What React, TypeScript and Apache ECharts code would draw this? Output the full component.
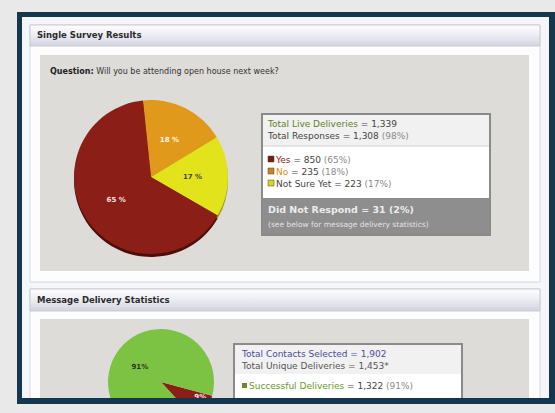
import React, { useEffect, useRef } from "react";
import * as echarts from "echarts";

const surveyCategories = ["No", "Not Sure Yet", "Yes"];
const surveyValues = [235, 223, 850];
const surveyPercents = [18, 17, 65];
const deliveryCategories = ["Failed Deliveries", "Successful Deliveries"];
const deliveryValues = [131, 1322];
const deliveryPercents = [9, 91];

const FONT = "DejaVu Sans";

export default function App() {
  const ref = useRef<HTMLDivElement>(null);
  useEffect(() => {
    if (!ref.current) return;
    const chart = echarts.init(ref.current, undefined, { renderer: "svg" });
    const hdrGrad = new echarts.graphic.LinearGradient(0, 0, 0, 1, [
      { offset: 0, color: "#fdfdff" },
      { offset: 0.5, color: "#ececf3" },
      { offset: 1, color: "#d3d3e0" },
    ]);
    const text = (x: number, y: number, t: string, extra: any = {}, z = 5) => ({
      type: "text",
      x,
      y,
      z,
      silent: true,
      style: {
        text: t,
        fontFamily: FONT,
        fontSize: 8,
        fill: "#333",
        verticalAlign: "middle",
        ...extra,
      },
    });
    const option: any = {
      animation: false,
      backgroundColor: "#e9e9e9",
      graphic: [
        { type: "rect", z: 0, silent: true, shape: { x: 17, y: 12, width: 540, height: 392 }, style: { fill: "#f5f6f9" } },
        { type: "rect", z: 0, silent: true, shape: { x: 30, y: 25, width: 510, height: 257 }, style: { fill: "#fdfdfe", stroke: "#d6d6de", lineWidth: 1 } },
        { type: "rect", z: 1, silent: true, shape: { x: 30, y: 25, width: 510, height: 21 }, style: { fill: hdrGrad, stroke: "#c9c9d6", lineWidth: 1 } },
        text(37, 35, "Single Survey Results", { fontWeight: "bold", fontSize: 8.5, fill: "#2a2a2a" }),
        { type: "rect", z: 1, silent: true, shape: { x: 40, y: 55, width: 489, height: 216 }, style: { fill: "#dddcd8" } },
        text(50, 71, "{b|Question:} Will you be attending open house next week?", {
          fill: "#333",
          rich: { b: { fontWeight: "bold", fontFamily: FONT, fontSize: 8, fill: "#222" } },
        }),
        { type: "rect", z: 3, silent: true, shape: { x: 262, y: 114, width: 228, height: 121 }, style: { fill: "#ffffff", stroke: "#8a8a8a", lineWidth: 2 } },
        { type: "rect", z: 3, silent: true, shape: { x: 263, y: 115, width: 226, height: 31 }, style: { fill: "#f1f1f1" } },
        { type: "line", z: 3, silent: true, shape: { x1: 263, y1: 146, x2: 489, y2: 146 }, style: { stroke: "#cfcfcf", lineWidth: 1 } },
        { type: "rect", z: 3, silent: true, shape: { x: 263, y: 198, width: 226, height: 36 }, style: { fill: "#8e8e8e" } },
        text(268, 124, "{g|Total Live Deliveries} = 1,339", {
          fontSize: 9, fill: "#444",
          rich: { g: { fontFamily: FONT, fontSize: 9, fill: "#5f7f28" } },
        }),
        text(268, 136, "Total Responses = 1,308 {s|(98%)}", {
          fontSize: 9, fill: "#444",
          rich: { s: { fontFamily: FONT, fontSize: 9, fill: "#8a8a8a" } },
        }),
        { type: "rect", z: 5, silent: true, shape: { x: 268, y: 156, width: 6, height: 6 }, style: { fill: "#7a1a14", stroke: "#444", lineWidth: 0.5 } },
        text(276, 160, "{c|Yes} = 850 {s|(65%)}", {
          fontSize: 9, fill: "#444",
          rich: { c: { fontFamily: FONT, fontSize: 9, fill: "#8b1e17" }, s: { fontFamily: FONT, fontSize: 9, fill: "#8a8a8a" } },
        }),
        { type: "rect", z: 5, silent: true, shape: { x: 268, y: 168, width: 6, height: 6 }, style: { fill: "#c9861a", stroke: "#444", lineWidth: 0.5 } },
        text(276, 172, "{c|No} = 235 {s|(18%)}", {
          fontSize: 9, fill: "#444",
          rich: { c: { fontFamily: FONT, fontSize: 9, fill: "#d8901a" }, s: { fontFamily: FONT, fontSize: 9, fill: "#8a8a8a" } },
        }),
        { type: "rect", z: 5, silent: true, shape: { x: 268, y: 180, width: 6, height: 6 }, style: { fill: "#d6d61a", stroke: "#444", lineWidth: 0.5 } },
        text(276, 184, "Not Sure Yet = 223 {s|(17%)}", {
          fontSize: 9, fill: "#444",
          rich: { s: { fontFamily: FONT, fontSize: 9, fill: "#8a8a8a" } },
        }),
        text(268, 209, "Did Not Respond = 31 (2%)", { fontSize: 9.5, fontWeight: "bold", fill: "#ececec" }),
        text(268, 224, "(see below for message delivery statistics)", { fontSize: 7.5, fill: "#e2e2e2" }),
        { type: "rect", z: 0, silent: true, shape: { x: 30, y: 289, width: 510, height: 120 }, style: { fill: "#fdfdfe", stroke: "#d6d6de", lineWidth: 1 } },
        { type: "rect", z: 1, silent: true, shape: { x: 30, y: 289, width: 510, height: 22 }, style: { fill: hdrGrad, stroke: "#c9c9d6", lineWidth: 1 } },
        text(37, 300, "Message Delivery Statistics", { fontWeight: "bold", fontSize: 8.5, fill: "#2a2a2a" }),
        { type: "rect", z: 1, silent: true, shape: { x: 40, y: 319, width: 489, height: 90 }, style: { fill: "#dddcd8" } },
        { type: "rect", z: 3, silent: true, shape: { x: 234, y: 344, width: 228, height: 70 }, style: { fill: "#ffffff", stroke: "#8a8a8a", lineWidth: 2 } },
        { type: "rect", z: 3, silent: true, shape: { x: 235, y: 345, width: 226, height: 29 }, style: { fill: "#f1f1f1" } },
        text(242, 354, "Total Contacts Selected = 1,902", { fontSize: 9, fill: "#4a4aa0" }),
        text(242, 366, "Total Unique Deliveries = 1,453*", { fontSize: 9, fill: "#555" }),
        { type: "rect", z: 5, silent: true, shape: { x: 242, y: 383, width: 5, height: 5 }, style: { fill: "#5f8f2a" } },
        text(249, 386, "{g|Successful Deliveries} = 1,322 {s|(91%)}", {
          fontSize: 9, fill: "#444",
          rich: { g: { fontFamily: FONT, fontSize: 9, fill: "#6a9a2a" }, s: { fontFamily: FONT, fontSize: 9, fill: "#8a8a8a" } },
        }),
        { type: "rect", z: 100, silent: true, shape: { x: 17, y: 12, width: 538, height: 5 }, style: { fill: "#15364f" } },
        { type: "rect", z: 100, silent: true, shape: { x: 17, y: 12, width: 5, height: 392 }, style: { fill: "#15364f" } },
        { type: "rect", z: 100, silent: true, shape: { x: 549, y: 12, width: 6, height: 392 }, style: { fill: "#15364f" } },
        { type: "rect", z: 100, silent: true, shape: { x: 17, y: 398, width: 538, height: 6 }, style: { fill: "#15364f" } },
        { type: "rect", z: 100, silent: true, shape: { x: 0, y: 404, width: 555, height: 9 }, style: { fill: "#e9e9e9" } },
      ],
      series: [
        {
          type: "pie",
          z: 2,
          silent: true,
          center: [151, 180],
          radius: 77,
          startAngle: 96,
          label: { show: false },
          labelLine: { show: false },
          itemStyle: { borderWidth: 0 },
          data: surveyCategories.map((n, i) => ({
            name: n + " shade",
            value: surveyValues[i],
            itemStyle: { color: ["#9a6410", "#9a9a10", "#4e0d0a"][i] },
          })),
        },
        {
          type: "pie",
          z: 3,
          silent: true,
          center: [151, 177],
          radius: 77,
          startAngle: 96,
          itemStyle: { borderWidth: 0 },
          label: {
            show: true,
            position: "inside",
            fontFamily: FONT,
            fontSize: 7,
            fontWeight: "bold",
            formatter: (p: any) => `${surveyPercents[p.dataIndex]} %`,
          },
          labelLine: { show: false },
          data: surveyCategories.map((n, i) => ({
            name: n,
            value: surveyValues[i],
            itemStyle: { color: ["#e0991a", "#e3e31c", "#8b1e17"][i] },
            label: { color: ["#fff5e0", "#444", "#f5e0e0"][i] },
          })),
        },
        {
          type: "pie",
          z: 3,
          silent: true,
          center: [161, 382],
          radius: 53,
          startAngle: -15,
          itemStyle: { borderWidth: 0 },
          label: {
            show: true,
            position: "inside",
            fontFamily: FONT,
            fontSize: 7,
            fontWeight: "bold",
            formatter: (p: any) => `${deliveryPercents[p.dataIndex]}%`,
          },
          labelLine: { show: false },
          data: deliveryCategories.map((n, i) => ({
            name: n,
            value: deliveryValues[i],
            itemStyle: { color: ["#8b1e17", "#7cc243"][i] },
            label: i === 0
              ? { color: "#f5e0e0", padding: [0, 0, 24, 28] }
              : { color: "#2a3a1a", padding: [0, 0, 34, 8] },
          })),
        },
      ],
    };
    chart.setOption(option);
    return () => chart.dispose();
  }, []);
  return (
    <div
      ref={ref}
      style={{ position: "absolute", left: 0, top: 0, width: 555, height: 413 }}
    />
  );
}
